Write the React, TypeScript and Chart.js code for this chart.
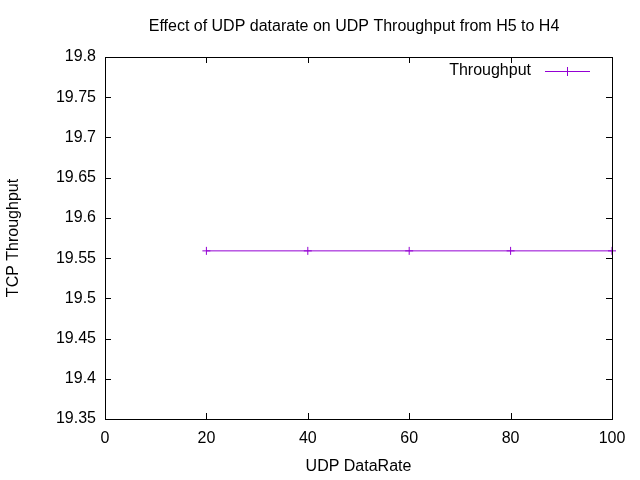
import { useEffect, useRef } from "react"
import { Chart, registerables } from "chart.js"

Chart.register(...registerables)

const dataRates = [20, 40, 60, 80, 100]
const throughput = [19.559, 19.559, 19.559, 19.559, 19.559]
const xTicks = [0, 20, 40, 60, 80, 100]
const yTicks = [19.35, 19.4, 19.45, 19.5, 19.55, 19.6, 19.65, 19.7, 19.75, 19.8]

const FONT = "'Liberation Sans', Arial, sans-serif"
const PURPLE = "#9400d3"

const framePlugin = {
  id: "frame",
  afterDraw(chart: Chart) {
    const { ctx, chartArea: a } = chart
    const x = chart.scales.x
    const y = chart.scales.y
    ctx.save()
    ctx.strokeStyle = "#000"
    ctx.lineWidth = 1
    ctx.strokeRect(a.left + 0.5, a.top + 0.5, a.right - a.left, a.bottom - a.top)
    ctx.beginPath()
    xTicks.forEach((t) => {
      const px = Math.round(x.getPixelForValue(t)) + 0.5
      ctx.moveTo(px, a.bottom); ctx.lineTo(px, a.bottom - 6)
      ctx.moveTo(px, a.top); ctx.lineTo(px, a.top + 6)
    })
    yTicks.forEach((t) => {
      const py = Math.round(y.getPixelForValue(t)) + 0.5
      ctx.moveTo(a.left, py); ctx.lineTo(a.left + 6, py)
      ctx.moveTo(a.right, py); ctx.lineTo(a.right - 6, py)
    })
    ctx.stroke()
    // title
    ctx.fillStyle = "#000"
    ctx.font = `16px ${FONT}`
    ctx.textAlign = "center"
    ctx.textBaseline = "middle"
    ctx.fillText("Effect of UDP datarate on UDP Throughput from H5 to H4", 354, 27)
    // legend
    ctx.textAlign = "right"
    ctx.fillText("Throughput", 531, 71)
    ctx.strokeStyle = PURPLE
    ctx.beginPath()
    ctx.moveTo(545, 71.5); ctx.lineTo(590, 71.5)
    ctx.moveTo(567.5, 67); ctx.lineTo(567.5, 76)
    ctx.stroke()
    ctx.restore()
  },
}

export default function App() {
  const ref = useRef<HTMLCanvasElement>(null)
  const inst = useRef<Chart | null>(null)

  useEffect(() => {
    document.body.style.margin = "0"
    if (!ref.current) return
    if (inst.current) inst.current.destroy()
    const ctx = ref.current.getContext("2d")
    if (!ctx) return
    inst.current = new Chart(ctx, {
      type: "line",
      data: {
        datasets: [
          {
            label: "Throughput",
            data: dataRates.map((r, i) => ({ x: r, y: throughput[i] })),
            borderColor: PURPLE,
            backgroundColor: PURPLE,
            borderWidth: 1,
            pointStyle: "cross",
            pointRadius: 4,
            pointBorderWidth: 1,
            clip: false,
          },
        ],
      },
      options: {
        animation: false,
        responsive: false,
        layout: { padding: { top: 57, right: 28, left: 0, bottom: 0 } },
        plugins: { legend: { display: false }, title: { display: false }, tooltip: { enabled: false } },
        scales: {
          x: {
            type: "linear",
            min: 0,
            max: 100,
            afterFit: (s: any) => { s.height = 61 },
            afterBuildTicks: (s: any) => { s.ticks = xTicks.map((v) => ({ value: v })) },
            grid: { display: false, drawTicks: false },
            border: { display: false },
            ticks: { color: "#000", padding: 10, font: { family: FONT, size: 16 } },
            title: { display: true, text: "UDP DataRate", color: "#000", padding: { top: 4 }, font: { family: FONT, size: 16 } },
          },
          y: {
            type: "linear",
            min: 19.35,
            max: 19.8,
            afterFit: (s: any) => { s.width = 105 },
            afterBuildTicks: (s: any) => { s.ticks = yTicks.map((v) => ({ value: v })) },
            grid: { display: false, drawTicks: false },
            border: { display: false },
            ticks: { color: "#000", padding: 9, font: { family: FONT, size: 16 }, callback: (v: any) => String(Number(v)) },
            title: { display: true, text: "TCP Throughput", color: "#000", padding: { bottom: 0 }, font: { family: FONT, size: 16 } },
          },
        },
      },
      plugins: [framePlugin],
    })
    return () => { inst.current?.destroy() }
  }, [])

  return <canvas ref={ref} width={640} height={480} style={{ display: "block" }} />
}
